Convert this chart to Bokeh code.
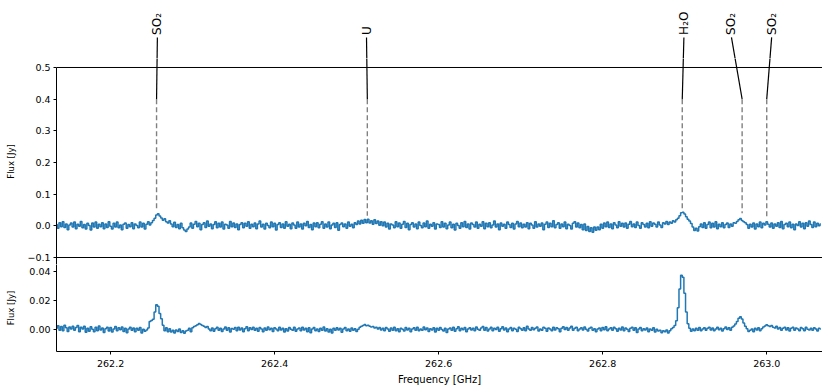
import numpy as np
from math import pi
from bokeh.plotting import figure
from bokeh.layouts import column
from bokeh.models import (Range1d, FixedTicker, CustomJSTickFormatter, LinearAxis,
                          ColumnDataSource)
from bokeh.core.properties import value
from bokeh.embed import file_html
from bokeh.resources import INLINE

# ---------------- data ----------------
freq_start = 262.134   # GHz, first channel
freq_step = 0.002      # GHz, channel width

# upper panel flux, mJy
flux_top_mjy = [
    4, -8, 10, -3, 13, -5, 6, -12, 3, 9,
    -4, 12, -9, 5, -1, 14, -6, 4, -10, 8,
    1, -13, 9, -4, 12, -8, 5, -3, 10, -9,
    6, -5, 13, -1, -10, 8, -4, 12, -6, 3,
    -12, 5, 9, -8, 4, -3, 10, -9, 6, 1,
    -6, 12, -4, 8, -10, 5, 13, 3, 10, 17,
    24, 34, 38, 31, 25, 18, 22, 13, 9, 16,
    6, -3, 11, -5, 4, -9, 8, -6, -13, -18,
    -10, -4, 9, -8, 5, 14, -3, 8, -12, 4,
    10, -5, 15, -1, 6, -9, 4, 13, -6, 8,
    -4, 12, -10, 5, 3, -8, 14, -3, 9, -5,
    6, -12, 4, 10, -6, 8, -1, 13, -8, 5,
    -3, 9, -9, 6, 15, -4, 5, -10, 8, 1,
    -6, 12, -3, 8, -13, 4, 10, -5, 6, -8,
    13, -1, 5, -9, 9, 3, -8, 12, -4, 6,
    -10, 8, 0, 14, -5, 4, -12, 9, -3, 10,
    -6, 5, 13, -8, 6, -4, 12, -9, 3, 8,
    -5, 10, -14, 4, 9, -3, 6, -8, 12, -1,
    5, -6, 10, 4, 15, 6, 18, 8, 20, 10,
    21, 9, 16, 5, 19, 7, 15, 2, 13, 0,
    12, -4, 8, -10, 6, 3, -6, 13, -3, 9,
    -8, 5, 14, -5, 8, -12, 4, 10, -4, 6,
    -9, 12, 1, -6, 9, -3, 15, -8, 5, -1,
    10, -10, 6, 4, -5, 13, -4, 8, -9, 3,
    12, -6, 5, -13, 8, 1, -8, 10, -3, 14,
    -5, 6, -10, 9, 4, -4, 12, -8, 5, -1,
    13, -9, 8, -3, 10, -6, 3, 15, -4, 6,
    -12, 9, -1, 5, -8, 12, 4, -5, 8, -10,
    6, 14, -3, 9, -6, 5, -4, 10, -9, 8,
    3, -8, 13, -4, 6, -1, 9, -12, 5, 12,
    -5, 8, -3, 16, -6, 4, 10, -8, 6, -3,
    12, -9, 5, 1, -10, 8, 13, -4, 9, -6,
    4, -12, 6, -15, -2, -18, -6, -20, -4, -14,
    -4, -12, 5, -8, 9, -3, 12, -5, 6, -9,
    10, 3, -6, 13, -1, 8, -4, 9, -8, 5,
    14, -3, 6, -5, 12, 1, -8, 10, 4, -4,
    8, -6, 13, -1, 9, 5, -4, 12, 3, -5,
    10, 6, 14, 4, 12, 8, 16, 12, 19, 24,
    32, 41, 43, 37, 29, 21, 15, 7, -4, -15,
    -8, -16, -3, 6, -5, 10, -8, 4, 12, -6,
    8, -4, 13, -9, 5, -3, 10, -6, 4, 9,
    -5, 6, -1, 10, 8, 14, 19, 23, 17, 13,
    10, 4, -8, 5, -4, 9, -10, 6, -3, 12,
    -6, 8, 3, 13, 5, -4, 9, -8, 6, -1,
    10, -5, 14, -9, 4, 8, -3, 12, -6, 5,
    -12, 6, 1, 13, -4, 8, -9, 10, -1, 15,
    4, -5, 12, -3, 8, 0, 6,
]

# lower panel flux, units of 0.1 mJy
flux_bottom_01mjy = [
    8, 26, -5, 20, -9, 30, 12, -14, 18, 4,
    23, -6, 13, 28, -15, 16, 3, 22, -19, 9,
    -12, 19, 1, -16, 15, -8, 25, -3, 10, -20,
    6, 16, -10, 13, -18, 4, 21, -9, 12, -2,
    18, -13, 8, -22, 3, 15, -6, 10, -16, 9,
    -5, 13, -24, 2, -12, -3, 10, 55, 62, 70,
    120, 170, 160, 110, 75, 30, -8, 12, -15, 6,
    -18, -6, -24, -3, -13, 4, -21, -8, -26, -10,
    -5, 9, -15, 12, 20, 26, 32, 42, 35, 28,
    22, 13, 20, 3, -8, 10, -12, 6, 16, -5,
    9, -13, 4, 18, -6, 12, -18, 7, 2, 13,
    -9, 15, -3, 10, -15, 6, 19, -8, 12, 0,
    16, -5, 9, -12, 13, 3, -16, 10, -6, 18,
    -2, 8, -13, 12, 4, -9, 15, -3, 9, -18,
    6, -10, 13, 2, -6, 16, -12, 4, 10, -8,
    15, -3, 8, -15, 12, -22, 3, 13, -9, 4,
    -13, 9, -5, 18, -10, 6, -18, 2, -24, 8,
    -6, 12, -3, 9, -19, 4, 13, -9, 3, -12,
    10, -5, 6, -13, 2, 16, 22, 28, 34, 26,
    30, 22, 18, 20, 10, 15, 4, 14, -3, 9,
    -8, 13, 3, -12, 10, -5, 16, -9, 6, -15,
    8, 2, -10, 13, -3, 9, -16, 4, 12, -6,
    15, -9, 3, -5, 18, -2, 10, -13, 6, -3,
    12, -18, 8, -6, 13, 0, -10, 9, -21, 3,
    10, -5, 16, -12, 6, 19, -8, 9, -2, 13,
    -15, 4, 12, -3, 8, -9, 18, 2, -6, 10,
    21, -5, 13, -10, 3, 15, -8, 9, 0, 16,
    -12, 6, 19, -3, 10, -16, 4, 13, -8, 9,
    2, -13, 15, 6, -5, 12, -9, 22, 3, -6,
    13, -2, 9, 18, -10, 4, -5, 15, 8, -12,
    10, 3, -8, 16, -3, 12, 6, -15, 9, 19,
    0, 13, -6, 10, 22, -5, 8, 15, -9, 4,
    12, -3, 18, 2, -10, 9, 16, -6, 6, -16,
    3, 10, -8, 13, -2, 19, -9, 4, 12, -5,
    15, 6, -12, 9, -3, 18, -8, 10, 2, -13,
    8, 16, -5, 12, -21, 3, 13, -9, 6, -3,
    10, -15, 4, -6, 12, -18, 2, -10, -5, -22,
    -9, -16, -3, -24, -8, 6, 14, 28, 60, 150,
    280, 375, 360, 250, 120, 40, 8, -12, 4, -8,
    9, -5, 13, -9, 3, 12, -6, 8, 16, -3,
    10, -8, 4, 15, -2, 9, -10, 6, 18, 0,
    12, -5, 15, 24, 38, 55, 78, 88, 72, 45,
    22, 6, -13, -6, 4, -15, 9, -3, 12, -9,
    6, 18, 24, 32, 26, 20, 28, 15, 10, 22,
    4, 13, -6, 9, 16, -3, 12, -10, 8, 15,
    -5, 10, 3, -9, 13, 6, -8, 16, 2, -3,
    9, -6, 12, 3, -10, 8, 4,
]

flux_top = np.array(flux_top_mjy) / 1000.0          # Jy
flux_bottom = np.array(flux_bottom_01mjy) / 10000.0  # Jy
freq = freq_start + freq_step * np.arange(len(flux_top))

line_names = ["SO\u2082", "U", "H\u2082O", "SO\u2082", "SO\u2082"]
line_freqs = [262.256, 262.513, 262.897, 262.970, 263.000]
label_freqs = [262.257, 262.512, 262.899, 262.957, 263.006]
dash_ends = [0.050, 0.032, 0.055, 0.040, 0.024]

x_ticks = [262.2, 262.4, 262.6, 262.8, 263.0]
top_y_ticks = [-0.1, 0.0, 0.1, 0.2, 0.3, 0.4, 0.5]
bottom_y_ticks = [0.0, 0.02, 0.04]

# ---------------- styling / layout ----------------
FONT = "DejaVu Sans"
BLUE = "#1f77b4"
X0, X1 = 262.134, 263.068
TOP_LIM = (-0.1, 0.5)
PX_TOP = 316.67                 # px per Jy, upper panel
STRIP_H = 58                    # height of the label strip above the panel
LABEL_VIEW = (0.5 + (67 - STRIP_H) / PX_TOP, 0.5 + 67 / PX_TOP)
PANEL_VIEW = (-0.1 - 7 / PX_TOP, LABEL_VIEW[0])
PANEL_H = 264 - STRIP_H
BOT_VIEW = (-0.01517, 0.04483)
LABEL_LINE_TOP = 0.595
LABEL_Y = 0.603
DASH_TOP = 0.4
LEFT = 56
FRAME_W = 766


def style_axis(ax, digits):
    ax.axis_line_color = "black"
    ax.major_tick_line_color = "black"
    ax.minor_tick_line_color = None
    ax.major_tick_out = 3
    ax.major_tick_in = 0
    ax.major_label_text_font = FONT
    ax.major_label_text_font_size = "9.5px"
    ax.major_label_text_color = "black"
    ax.major_label_standoff = 3
    ax.axis_label_text_font = FONT
    ax.axis_label_text_font_style = "normal"
    ax.axis_label_text_color = "black"
    ax.axis_label_text_font_size = "8.5px"
    ax.formatter = CustomJSTickFormatter(
        code="return (tick < -1e-9 ? '\\u2212' : '') + Math.abs(tick).toFixed(%d);" % digits)


def blank_right_axis(bounds="auto"):
    return LinearAxis(bounds=bounds, ticker=FixedTicker(ticks=[]),
                      major_label_text_font_size="0px", major_tick_line_color=None,
                      minor_tick_line_color=None, axis_line_color="black")


def base_fig(frame_h, y_view):
    p = figure(frame_width=FRAME_W, frame_height=frame_h, x_range=x_range,
               y_range=Range1d(*y_view), output_backend="svg",
               toolbar_location=None, min_border_left=LEFT, min_border_right=0,
               min_border_top=0, min_border_bottom=0)
    p.outline_line_color = None
    p.grid.visible = False
    return p


x_range = Range1d(X0, X1)
n = len(line_freqs)
src = ColumnDataSource(dict(x=label_freqs, y=[LABEL_Y] * n, t=line_names))

# ---------------- line labels strip ----------------
p0 = base_fig(STRIP_H, LABEL_VIEW)
p0.xaxis.visible = False
p0.yaxis.visible = False
p0.add_layout(blank_right_axis((0, 0)), "right")
p0.segment(x0=label_freqs, y0=[LABEL_LINE_TOP] * n, x1=line_freqs, y1=[DASH_TOP] * n,
           line_color="black", line_width=1.2)
p0.text(x="x", y="y", text="t", source=src, angle=pi / 2, text_align="left",
        text_baseline="middle", text_font=value(FONT), text_font_size="12px",
        text_color="black")

# ---------------- top panel ----------------
p1 = base_fig(PANEL_H, PANEL_VIEW)
p1.xaxis.visible = False
p1.yaxis.bounds = (PANEL_VIEW[0], TOP_LIM[1])
p1.yaxis.ticker = FixedTicker(ticks=top_y_ticks)
p1.yaxis.axis_label = "Flux [Jy]"
style_axis(p1.yaxis[0], 1)
p1.yaxis.axis_label_standoff = 8
p1.add_layout(blank_right_axis((PANEL_VIEW[0], TOP_LIM[1])), "right")

p1.segment(x0=[X0, X0], y0=[TOP_LIM[1], TOP_LIM[0]], x1=[X1, X1], y1=[TOP_LIM[1], TOP_LIM[0]],
           line_color="black", line_width=1)
p1.step(freq, flux_top, mode="center", line_color=BLUE, line_width=1.5)
p1.segment(x0=line_freqs, y0=[DASH_TOP] * n, x1=line_freqs, y1=dash_ends,
           line_color="#808080", line_width=1.4, line_dash="5 3")
p1.segment(x0=label_freqs, y0=[LABEL_LINE_TOP] * n, x1=line_freqs, y1=[DASH_TOP] * n,
           line_color="black", line_width=1.2)

# ---------------- bottom panel ----------------
p2 = base_fig(87, BOT_VIEW)
p2.step(freq, flux_bottom, mode="center", line_color=BLUE, line_width=1.5)
p2.yaxis.ticker = FixedTicker(ticks=bottom_y_ticks)
p2.yaxis.axis_label = "Flux [Jy]"
style_axis(p2.yaxis[0], 2)
p2.yaxis.axis_label_standoff = 10
p2.add_layout(blank_right_axis(), "right")
p2.xaxis.ticker = FixedTicker(ticks=x_ticks)
p2.xaxis.axis_label = "Frequency [GHz]"
style_axis(p2.xaxis[0], 1)
p2.xaxis.major_label_standoff = 5
p2.xaxis.axis_label_text_font_size = "10px"
p2.xaxis.axis_label_standoff = 4

layout = column(p0, p1, p2, spacing=0)
open("out.html", "w").write(file_html(layout, INLINE))
